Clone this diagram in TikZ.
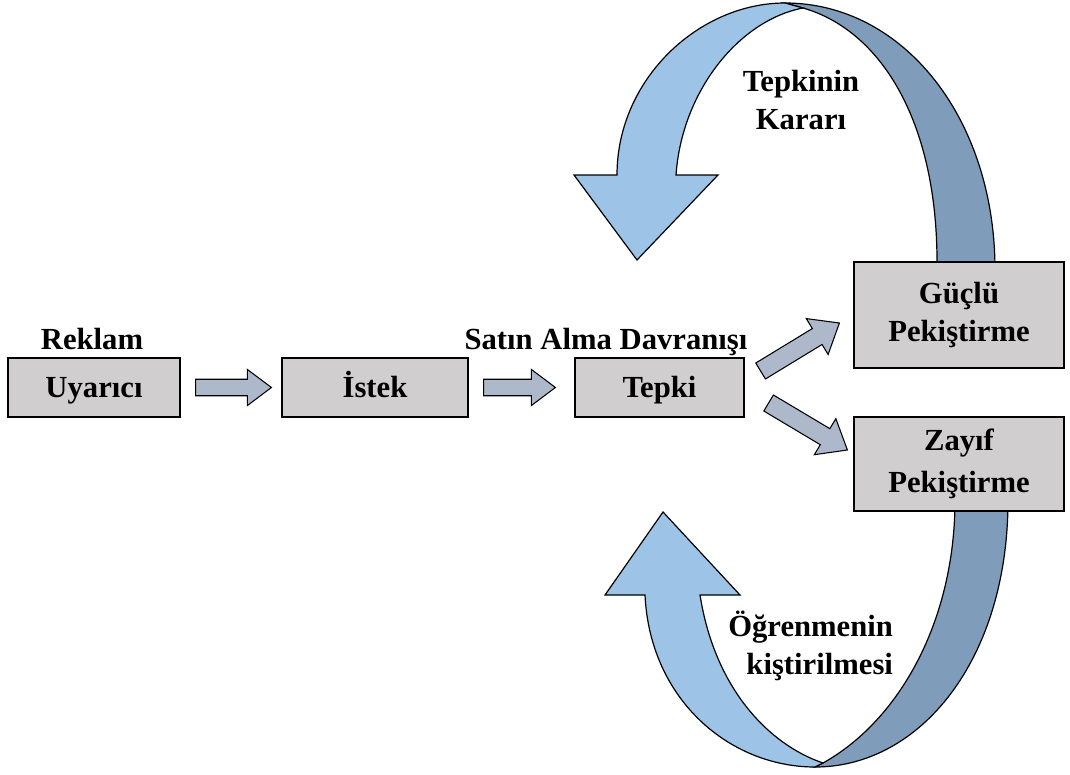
\documentclass[tikz,border=0pt]{standalone}
\usepackage{fontspec}
\setmainfont{Liberation Serif}
\usetikzlibrary{calc}
\newlength\pxu
\setlength\pxu{0.75pt}
\definecolor{boxgray}{HTML}{D0CECE}
\definecolor{arrowgray}{HTML}{ADB9CA}
\definecolor{ribbonlight}{HTML}{9DC3E6}
\definecolor{ribbondark}{HTML}{7F9DBB}

% block arrow: tail, tip, shaft half-width, head half-width, head length
\newcommand\blockarrow[5]{%
  \coordinate (ba-hb) at ($(#2)!#5!(#1)$);
  \draw[blockarrow] ($(#1)!#3!90:(#2)$) -- ($(ba-hb)!#3!90:(#2)$)
    -- ($(ba-hb)!#4!90:(#2)$) -- (#2) -- ($(ba-hb)!#4!-90:(#2)$)
    -- ($(ba-hb)!#3!-90:(#2)$) -- ($(#1)!#3!-90:(#2)$) -- cycle;
}

\begin{document}
\begin{tikzpicture}[x=0.75pt,y=-0.75pt,line width=0.9pt,line join=miter,
  txt/.style={font=\fontsize{23}{29}\selectfont\bfseries},
  box/.style={txt,draw=black,fill=boxgray,inner sep=0pt,align=center,
    minimum height=59\pxu},
  onebox/.style={box,text height=15.2pt,text depth=0pt},
  blockarrow/.style={draw=black,fill=arrowgray,line width=0.8pt},
  lightband/.style={draw=black,fill=ribbonlight},
  darkband/.style={draw=black,fill=ribbondark}]
\useasboundingbox (0,0) rectangle (1070,774);

% upper ribbon: back side
\draw[darkband] (785,3) .. controls (903,3) and (995,118) .. (995,270)
  -- (937,270) -- (937,262) .. controls (937,120) and (880,30) .. (803,8) -- cycle;
% upper ribbon: front side with arrowhead
\draw[lightband] (617,175) -- (574,175) -- (637,260) -- (718,175) -- (676,175)
  .. controls (682,90) and (740,20) .. (803,8) -- (785,3)
  .. controls (699,3) and (617,79) .. (617,175) -- cycle;

% lower ribbon: back side
\draw[darkband] (815,767) .. controls (920,767) and (1008,660) .. (1008,500)
  -- (955,500) .. controls (955,620) and (900,720) .. (823,763) -- cycle;
% lower ribbon: front side with arrowhead
\draw[lightband] (645,595) -- (605,595) -- (663,512) -- (740,595) -- (700,595)
  .. controls (715,690) and (770,745) .. (823,763) -- (815,767)
  .. controls (730,767) and (650,700) .. (645,595) -- cycle;

% boxes
\node[onebox,minimum width=172\pxu] (uy) at (94,387.5) {Uyarıcı};
\node[onebox,minimum width=186\pxu] (is) at (375,387.5) {İstek};
\node[onebox,minimum width=169\pxu] (te) at (659.5,387.5) {Tepki};
\node[box,minimum width=210\pxu,minimum height=106\pxu] (gu) at (959,315)
  {Güçlü\\Pekiştirme};
\node[box,minimum width=210\pxu,minimum height=94\pxu] (za) at (959,464)
  {Zayıf\\[2pt]Pekiştirme};

% labels
\node[txt,anchor=base] (rek) at (92,349) {Reklam};
\node[txt,anchor=base] (sat) at (606,349) {Satın Alma Davranışı};
\node[txt,align=center] (kar) at (801,100) {Tepkinin\\Kararı};
\node[txt,align=right,anchor=east] (ogr) at (898,646) {Öğrenmenin\\kiştirilmesi};

% arrow end points
\coordinate (a1t) at ($(uy.east)+(15,0)$);
\coordinate (a1h) at ($(is.west)+(-10,0)$);
\coordinate (a2t) at ($(is.east)+(15,0)$);
\coordinate (a2h) at ($(te.west)+(-19,0)$);
\coordinate (a3t) at ($(te.east)+(16,-16.5)$);
\coordinate (a3h) at ($(gu.west)+(-14,8)$);
\coordinate (a4t) at ($(te.east)+(24,15.5)$);
\coordinate (a4h) at ($(za.west)+(-6,-14)$);

\blockarrow{a1t}{a1h}{6.2pt}{13.5pt}{18pt}
\blockarrow{a2t}{a2h}{6.2pt}{13.5pt}{18pt}
\blockarrow{a3t}{a3h}{7pt}{15.75pt}{19.5pt}
\blockarrow{a4t}{a4h}{7pt}{15.75pt}{19.5pt}
\end{tikzpicture}
\end{document}
